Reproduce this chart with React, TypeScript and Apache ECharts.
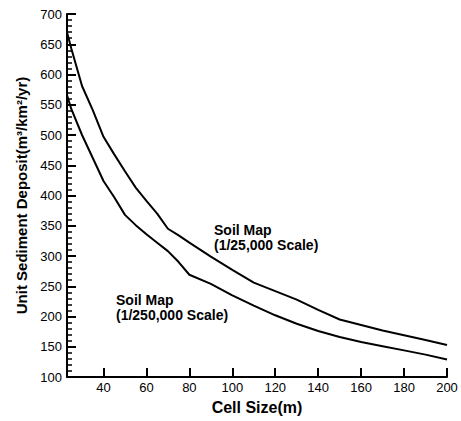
import React, { useEffect, useRef } from "react";
import * as echarts from "echarts";

const cellSizes = [23, 25, 30, 35, 40, 45, 50, 55, 60, 65, 70, 75, 80, 90, 100, 110, 120, 130, 140, 150, 160, 170, 180, 190, 200];
const soil25000 = [670, 643, 581, 541, 497, 468, 440, 413, 391, 370, 345, 334, 322, 299, 277, 256, 242, 228, 211, 195, 186, 177, 169, 161, 153];
const soil250000 = [566, 543, 500, 462, 424, 397, 368, 351, 336, 322, 308, 290, 269, 254, 235, 218, 202, 188, 176, 166, 158, 151, 144, 137, 129];
const xTicks = [40, 60, 80, 100, 120, 140, 160, 180, 200];
const yTicks = [100, 150, 200, 250, 300, 350, 400, 450, 500, 550, 600, 650, 700];
const label25000 = "Soil Map\n(1/25,000 Scale)";
const label250000 = "Soil Map\n(1/250,000 Scale)";

const X_MIN = 23;
const X_MAX = 200;
const Y_MIN = 100;
const Y_MAX = 700;
const GRID = { left: 67, right: 14, top: 14, bottom: 44 };
const W = 461;
const H = 421;
const FONT = "'Liberation Sans', Arial, Helvetica, sans-serif";

export default function App() {
  const ref = useRef<HTMLDivElement>(null);
  useEffect(() => {
    if (!ref.current) return;
    const chart = echarts.init(ref.current, undefined, { renderer: "svg" });
    const toPairs = (ys: number[]) => cellSizes.map((x, i) => [x, ys[i]]);

    // tick lengths (pixels) expressed in data units of the axes
    const plotW = W - GRID.left - GRID.right;
    const plotH = H - GRID.top - GRID.bottom;
    const xPerPx = (X_MAX - X_MIN) / plotW;
    const yPerPx = (Y_MAX - Y_MIN) / plotH;

    const yMinor: number[] = [];
    for (let i = 0; i < yTicks.length - 1; i++) {
      const step = (yTicks[i + 1] - yTicks[i]) / 5;
      for (let k = 1; k < 5; k++) yMinor.push(yTicks[i] + step * k);
    }

    const tickLines: any[] = [
      ...yTicks.map((v) => [
        { coord: [X_MIN, v], lineStyle: { color: "#000", width: 2, type: "solid" } },
        { coord: [X_MIN + 9 * xPerPx, v] },
      ]),
      ...yMinor.map((v) => [
        { coord: [X_MIN, v], lineStyle: { color: "#000", width: 1.5, type: "solid" } },
        { coord: [X_MIN + 5 * xPerPx, v] },
      ]),
      ...xTicks.map((v) => [
        { coord: [v, Y_MIN], lineStyle: { color: "#000", width: 2, type: "solid" } },
        { coord: [v, Y_MIN + 9 * yPerPx] },
      ]),
    ];

    chart.setOption({
      animation: false,
      backgroundColor: "#fff",
      textStyle: { fontFamily: FONT },
      grid: { ...GRID },
      xAxis: {
        type: "value",
        min: X_MIN,
        max: X_MAX,
        name: "Cell Size(m)",
        nameLocation: "middle",
        nameGap: 22,
        nameTextStyle: { fontFamily: FONT, fontSize: 16, fontWeight: "bold", color: "#000" },
        axisLine: { show: true, onZero: false, lineStyle: { color: "#000", width: 2 } },
        axisTick: { show: false },
        axisLabel: { color: "#000", fontSize: 13, fontFamily: FONT, margin: 4, customValues: xTicks },
        splitLine: { show: false },
      },
      yAxis: {
        type: "value",
        min: Y_MIN,
        max: Y_MAX,
        interval: 50,
        name: "Unit Sediment Deposit(m³/km²/yr)",
        nameLocation: "middle",
        nameRotate: 90,
        nameGap: 33,
        nameTextStyle: { fontFamily: FONT, fontSize: 15, fontWeight: "bold", color: "#000" },
        axisLine: { show: true, onZero: false, lineStyle: { color: "#000", width: 2 } },
        axisTick: { show: false },
        minorTick: { show: false },
        axisLabel: { color: "#000", fontSize: 13, fontFamily: FONT, margin: 5 },
        splitLine: { show: false },
      },
      series: [
        {
          type: "line",
          data: toPairs(soil25000),
          symbol: "none",
          clip: false,
          lineStyle: { color: "#000", width: 2 },
          markLine: {
            silent: true,
            symbol: ["none", "none"],
            label: { show: false },
            emphasis: { disabled: true },
            lineStyle: { color: "#000", width: 2, type: "solid" },
            data: tickLines,
          },
        },
        { type: "line", data: toPairs(soil250000), symbol: "none", lineStyle: { color: "#000", width: 2 } },
      ],
      graphic: [
        {
          type: "text",
          left: 214,
          top: 222,
          style: { text: label25000, font: `bold 14px ${FONT}`, fill: "#000", lineHeight: 15 },
        },
        {
          type: "text",
          left: 116,
          top: 292,
          style: { text: label250000, font: `bold 14px ${FONT}`, fill: "#000", lineHeight: 15 },
        },
      ],
    });

    return () => chart.dispose();
  }, []);
  return <div ref={ref} style={{ position: "fixed", left: 0, top: 0, width: W, height: H }} />;
}
